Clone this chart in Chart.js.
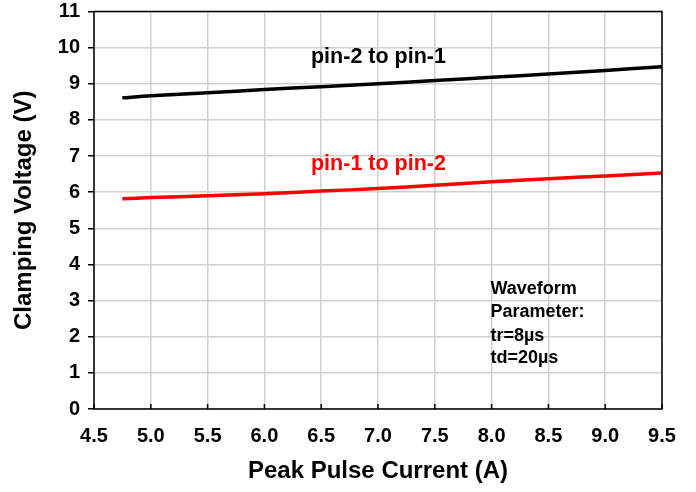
<!DOCTYPE html>
<html>
<head>
<meta charset="utf-8">
<script src="https://cdn.jsdelivr.net/npm/chart.js@4"></script>
<style>
  body { margin: 0; background: #fff; }
  canvas { display: block; }
</style>
</head>
<body>
<canvas id="chart" width="696" height="492"></canvas>
<script>
const currents = [4.75, 5.0, 5.5, 6.0, 6.5, 7.0, 7.5, 8.0, 8.5, 9.0, 9.5];
const pin2ToPin1 = [8.61, 8.67, 8.75, 8.84, 8.92, 9.0, 9.09, 9.18, 9.27, 9.37, 9.47];
const pin1ToPin2 = [5.82, 5.85, 5.90, 5.96, 6.03, 6.10, 6.19, 6.29, 6.37, 6.45, 6.53];
const xTicks = [4.5, 5.0, 5.5, 6.0, 6.5, 7.0, 7.5, 8.0, 8.5, 9.0, 9.5];
const yTicks = [0, 1, 2, 3, 4, 5, 6, 7, 8, 9, 10, 11];
const waveformNote = ['Waveform', 'Parameter:', 'tr=8\u00b5s', 'td=20\u00b5s'];

const FONT = '"Liberation Sans", Arial, sans-serif';

const toPoints = ys => currents.map((x, i) => ({ x, y: ys[i] }));

// frame around plot area, inner x ticks, and text notes
const decorations = {
  id: 'decorations',
  afterDatasetsDraw(chart) {
    const { ctx, chartArea: a, scales } = chart;
    const x = scales.x, y = scales.y;
    ctx.save();
    ctx.strokeStyle = '#000';
    ctx.lineWidth = 1.5;
    ctx.strokeRect(a.left, a.top, a.right - a.left, a.bottom - a.top);
    xTicks.forEach(v => {
      const px = x.getPixelForValue(v);
      ctx.beginPath();
      ctx.moveTo(px, a.bottom);
      ctx.lineTo(px, a.bottom - 5);
      ctx.stroke();
    });

    ctx.textBaseline = 'middle';
    ctx.textAlign = 'left';
    ctx.font = 'bold 21.5px ' + FONT;
    ctx.fillStyle = '#000';
    ctx.fillText('pin-2 to pin-1', x.getPixelForValue(6.41), y.getPixelForValue(9.73));
    ctx.fillStyle = '#ff0000';
    ctx.fillText('pin-1 to pin-2', x.getPixelForValue(6.41), y.getPixelForValue(6.79));

    ctx.font = 'bold 18px ' + FONT;
    ctx.fillStyle = '#000';
    const noteY = [3.33, 2.69, 2.01, 1.40];
    waveformNote.forEach((t, i) => {
      ctx.fillText(t, x.getPixelForValue(7.99), y.getPixelForValue(noteY[i]));
    });
    ctx.restore();
  }
};

new Chart(document.getElementById('chart'), {
  type: 'scatter',
  data: {
    datasets: [
      {
        label: 'pin-2 to pin-1',
        data: toPoints(pin2ToPin1),
        showLine: true,
        borderColor: '#000000',
        borderWidth: 3.5,
        pointRadius: 0,
        tension: 0.3
      },
      {
        label: 'pin-1 to pin-2',
        data: toPoints(pin1ToPin2),
        showLine: true,
        borderColor: '#ff0000',
        borderWidth: 3.5,
        pointRadius: 0,
        tension: 0.3
      }
    ]
  },
  options: {
    responsive: false,
    animation: false,
    layout: { padding: { top: 0, right: 34, left: 0, bottom: 0 } },
    plugins: {
      legend: { display: false },
      tooltip: { enabled: false }
    },
    scales: {
      x: {
        type: 'linear',
        min: 4.5,
        max: 9.5,
        afterBuildTicks: s => { s.ticks = xTicks.map(v => ({ value: v })); },
        afterFit: s => { s.height = 83; s.paddingLeft = 0; },
        grid: { color: '#d0d0d0', lineWidth: 1.5, drawTicks: false },
        border: { display: false },
        ticks: {
          padding: 15,
          color: '#000',
          font: { family: FONT, size: 20, weight: 'bold' },
          callback: v => Number(v).toFixed(1)
        },
        title: {
          display: true,
          text: 'Peak Pulse Current (A)',
          color: '#000',
          font: { family: FONT, size: 24, weight: 'bold' },
          padding: { top: 4, bottom: 6 }
        }
      },
      y: {
        min: 0,
        max: 11,
        afterBuildTicks: s => { s.ticks = yTicks.map(v => ({ value: v })); },
        afterFit: s => { s.width = 94; s.paddingTop = 11.5; s.paddingBottom = 0; },
        grid: { color: '#d0d0d0', lineWidth: 1.5, tickLength: 6, tickColor: '#000' },
        border: { display: false },
        ticks: {
          padding: 8,
          color: '#000',
          font: { family: FONT, size: 20, weight: 'bold' }
        },
        title: {
          display: true,
          text: 'Clamping Voltage (V)',
          color: '#000',
          font: { family: FONT, size: 24, weight: 'bold' },
          padding: { top: 10, bottom: 0 }
        }
      }
    }
  },
  plugins: [decorations]
});
</script>
</body>
</html>
